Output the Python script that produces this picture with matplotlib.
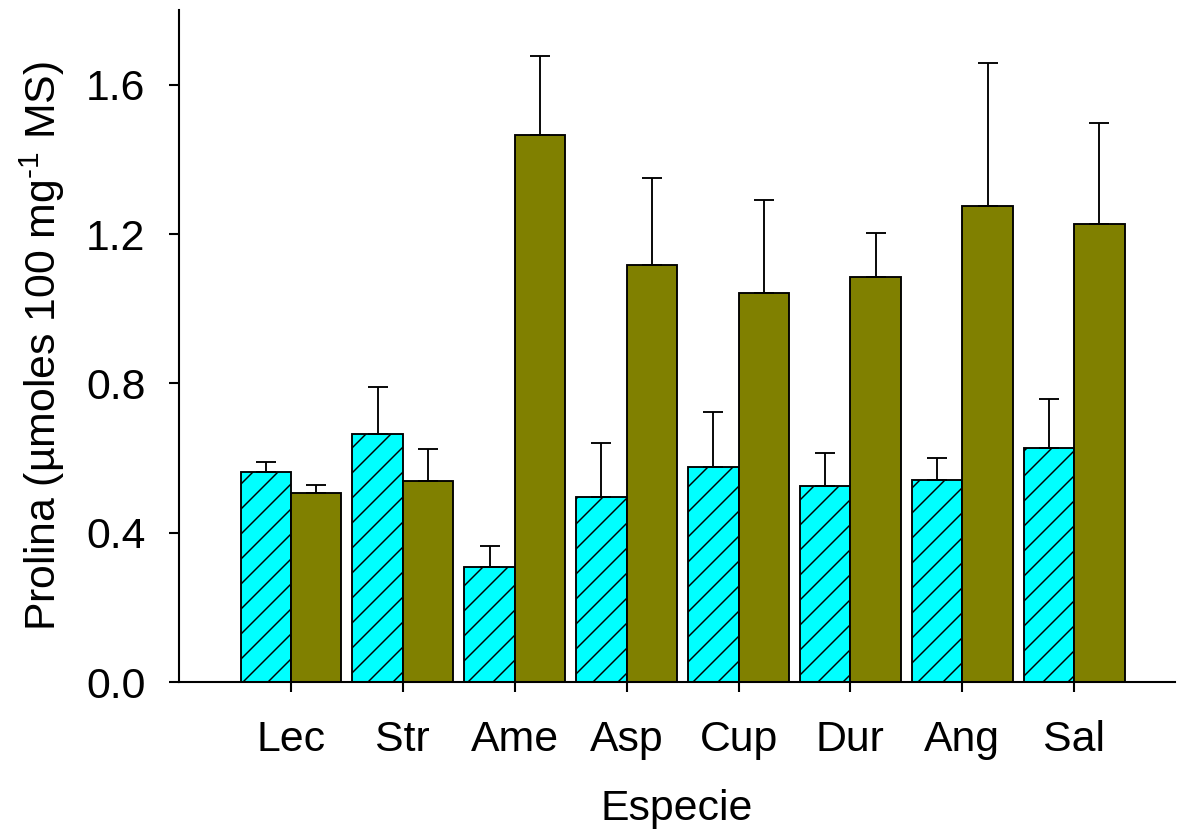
import matplotlib
matplotlib.use("Agg")
import matplotlib.pyplot as plt
import numpy as np

especies = ["Lec", "Str", "Ame", "Asp", "Cup", "Dur", "Ang", "Sal"]
prolina_a = [0.562, 0.664, 0.308, 0.495, 0.575, 0.524, 0.540, 0.626]
error_a = [0.027, 0.125, 0.056, 0.144, 0.147, 0.089, 0.059, 0.131]
prolina_b = [0.506, 0.538, 1.464, 1.118, 1.041, 1.084, 1.276, 1.228]
error_b = [0.021, 0.085, 0.214, 0.231, 0.251, 0.120, 0.383, 0.270]
yticks = [0.0, 0.4, 0.8, 1.2, 1.6]

plt.rcParams["font.family"] = ["Liberation Sans", "DejaVu Sans"]
plt.rcParams["mathtext.fontset"] = "custom"
plt.rcParams["mathtext.rm"] = "Liberation Sans"
plt.rcParams["hatch.linewidth"] = 0.7

dpi = 150
fig = plt.figure(figsize=(1193 / dpi, 829 / dpi), dpi=dpi)
ax = fig.add_axes([0.150, 0.1773, 0.8349, 0.8106])

x = np.arange(len(especies))
w = 0.45
ax.bar(x - w / 2, prolina_a, width=w, color="#00ffff", edgecolor="black",
       linewidth=0.9, hatch="//")
ax.bar(x + w / 2, prolina_b, width=w, color="#808000", edgecolor="black",
       linewidth=0.9)
# barras de error solo hacia arriba
ax.errorbar(x - w / 2, prolina_a, yerr=[np.zeros(len(x)), error_a], fmt="none",
            ecolor="black", elinewidth=0.9, capsize=4.6, capthick=0.9)
ax.errorbar(x + w / 2, prolina_b, yerr=[np.zeros(len(x)), error_b], fmt="none",
            ecolor="black", elinewidth=0.9, capsize=4.6, capthick=0.9)

ax.set_xlim(-1.0, 7.9)
ax.set_ylim(0, 1.8)
ax.set_xticks(x)
ax.set_xticklabels(especies)
ax.set_yticks(yticks)
ax.set_yticklabels([f"{v:.1f}" for v in yticks])

for s in ["top", "right"]:
    ax.spines[s].set_visible(False)
for s in ["left", "bottom"]:
    ax.spines[s].set_linewidth(1.0)

ax.tick_params(axis="both", direction="out", length=5, width=1.0, labelsize=20.5)
ax.tick_params(axis="y", pad=11)
ax.tick_params(axis="x", pad=13)

ax.set_xlabel("Especie", fontsize=20.5, labelpad=14)
ax.set_ylabel(r"Prolina (µmoles 100 mg$^{\text{-}1}$ MS)", fontsize=20.5, labelpad=9)

fig.savefig("out.png", dpi=dpi)
